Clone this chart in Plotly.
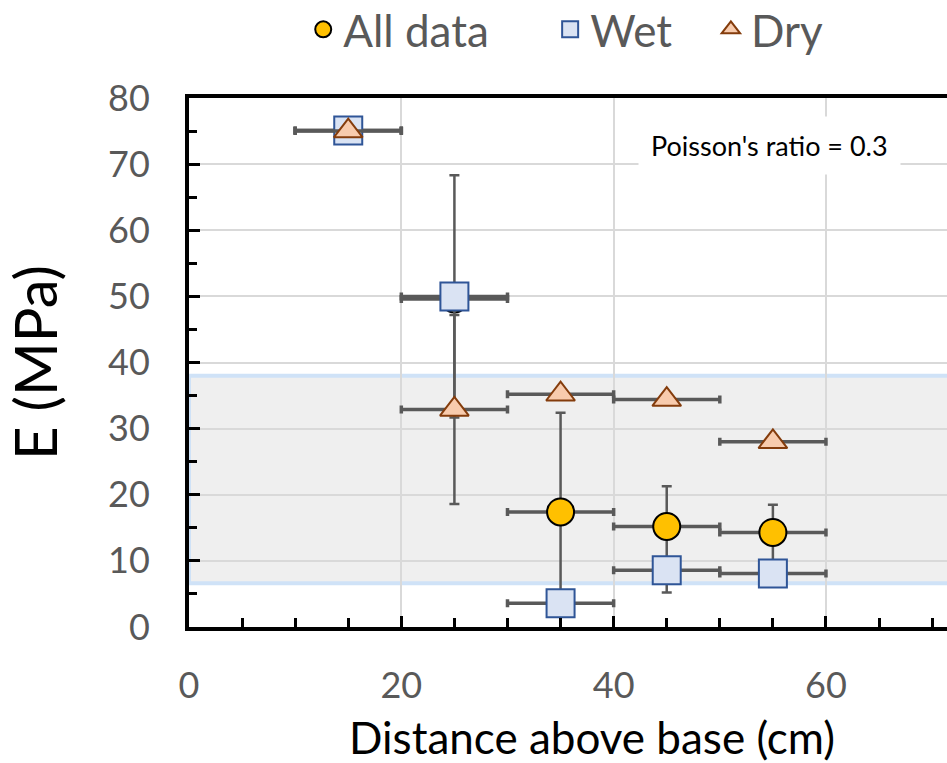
import plotly.graph_objects as go

# ---- data ----
all_x = [15, 25, 35, 45, 55]
all_y = [75.1, 49.6, 17.4, 15.2, 14.3]
all_yerr_plus = [0, 0, 15.0, 6.1, 4.2]
all_yerr_minus = [0, 0, 15.0, 10.0, 4.2]

wet_x = [15, 25, 35, 45, 55]
wet_y = [75.1, 50.0, 3.6, 8.6, 8.1]
wet_yerr = [0, 18.3, 0, 0, 0]

dry_x = [15, 25, 35, 45, 55]
dry_y = [75.0, 32.9, 35.2, 34.4, 28.0]
dry_yerr = [0, 14.3, 0, 0, 0]

x_half_width = 5  # bin half width (cm)

band_low, band_high = 6.6, 38.0
annotation_text = "Poisson's ratio = 0.3"
x_title = "Distance above base (cm)"
y_title = "E (MPa)"

FONT = "Lato"
ERR_COLOR = "#595959"
NB = "\u00a0"


def err_x():
    return dict(type="constant", value=x_half_width, color=ERR_COLOR,
                thickness=3.5, width=4)


def err_y(plus, minus=None):
    d = dict(type="data", array=plus, color=ERR_COLOR, thickness=2.5, width=5)
    if minus is None:
        d["symmetric"] = True
    else:
        d["symmetric"] = False
        d["arrayminus"] = minus
    return d


fig = go.Figure()

fig.add_trace(go.Scatter(
    x=all_x, y=all_y, mode="markers", name="All data" + NB * 5,
    marker=dict(symbol="circle", size=27, color="#FFC000",
                line=dict(color="black", width=2)),
    error_x=err_x(), error_y=err_y(all_yerr_plus, all_yerr_minus)))

fig.add_trace(go.Scatter(
    x=wet_x, y=wet_y, mode="markers", name="Wet" + NB * 3,
    marker=dict(symbol="square", size=28, color="#DAE3F3",
                line=dict(color="#2F5597", width=2)),
    error_x=err_x(), error_y=err_y(wet_yerr)))

fig.add_trace(go.Scatter(
    x=dry_x, y=dry_y, mode="markers", name="Dry",
    marker=dict(symbol="triangle-up", size=25, color="#F8CBAD",
                line=dict(color="#843C0C", width=2)),
    error_x=err_x(), error_y=err_y(dry_yerr)))

fig.add_shape(type="rect", xref="x", yref="y", x0=0, x1=80,
              y0=band_low, y1=band_high, layer="below",
              fillcolor="#EFEFEF", line=dict(color="#CFE2F7", width=4))

fig.add_annotation(xref="paper", yref="paper", x=0.766, y=0.911,
                   xanchor="center", yanchor="middle",
                   text=annotation_text, showarrow=False,
                   font=dict(family=FONT, size=27, color="black"),
                   bgcolor="white", borderpad=12)

# x-axis title (placed as annotation to match the reference's offset)
fig.add_annotation(xref="paper", yref="paper", x=0.532, y=-0.207,
                   xanchor="center", yanchor="middle",
                   text=x_title, showarrow=False,
                   font=dict(family=FONT, size=44, color="black"))

fig.update_layout(
    width=947, height=763,
    margin=dict(l=189, r=0, t=98, b=136),
    paper_bgcolor="white", plot_bgcolor="white",
    font=dict(family=FONT),
    showlegend=True,
    legend=dict(orientation="h", x=0.497, xanchor="center",
                yref="container", y=0.961, yanchor="middle",
                font=dict(family=FONT, size=44, color="#595959"),
                itemsizing="trace", bgcolor="rgba(0,0,0,0)"),
)

fig.update_xaxes(
    range=[0, 71.4], tick0=0, dtick=20, ticks="inside", ticklen=11,
    tickwidth=3, tickcolor="black", showline=True, linewidth=4,
    linecolor="black", mirror=True, showgrid=True, gridcolor="#D9D9D9",
    gridwidth=2, zeroline=False,
    tickfont=dict(family=FONT, size=36, color="#595959"),
    ticklabelstandoff=24,
    minor=dict(dtick=5, tick0=0, ticks="inside", ticklen=9, tickwidth=3,
               tickcolor="black", showgrid=False),
)

fig.update_yaxes(
    range=[0, 80], tick0=0, dtick=10, ticks="inside", ticklen=11,
    tickwidth=3, tickcolor="black", showline=True, linewidth=4,
    linecolor="black", mirror=False, showgrid=True, gridcolor="#D9D9D9",
    gridwidth=2, zeroline=False,
    tickfont=dict(family=FONT, size=36, color="#595959"),
    ticklabelstandoff=28,
    minor=dict(dtick=5, tick0=0, ticks="inside", ticklen=8, tickwidth=3,
               tickcolor="black", showgrid=False),
    title=dict(text=y_title,
               font=dict(family=FONT, size=58, color="black"), standoff=35),
)

fig.write_html("out.html")
